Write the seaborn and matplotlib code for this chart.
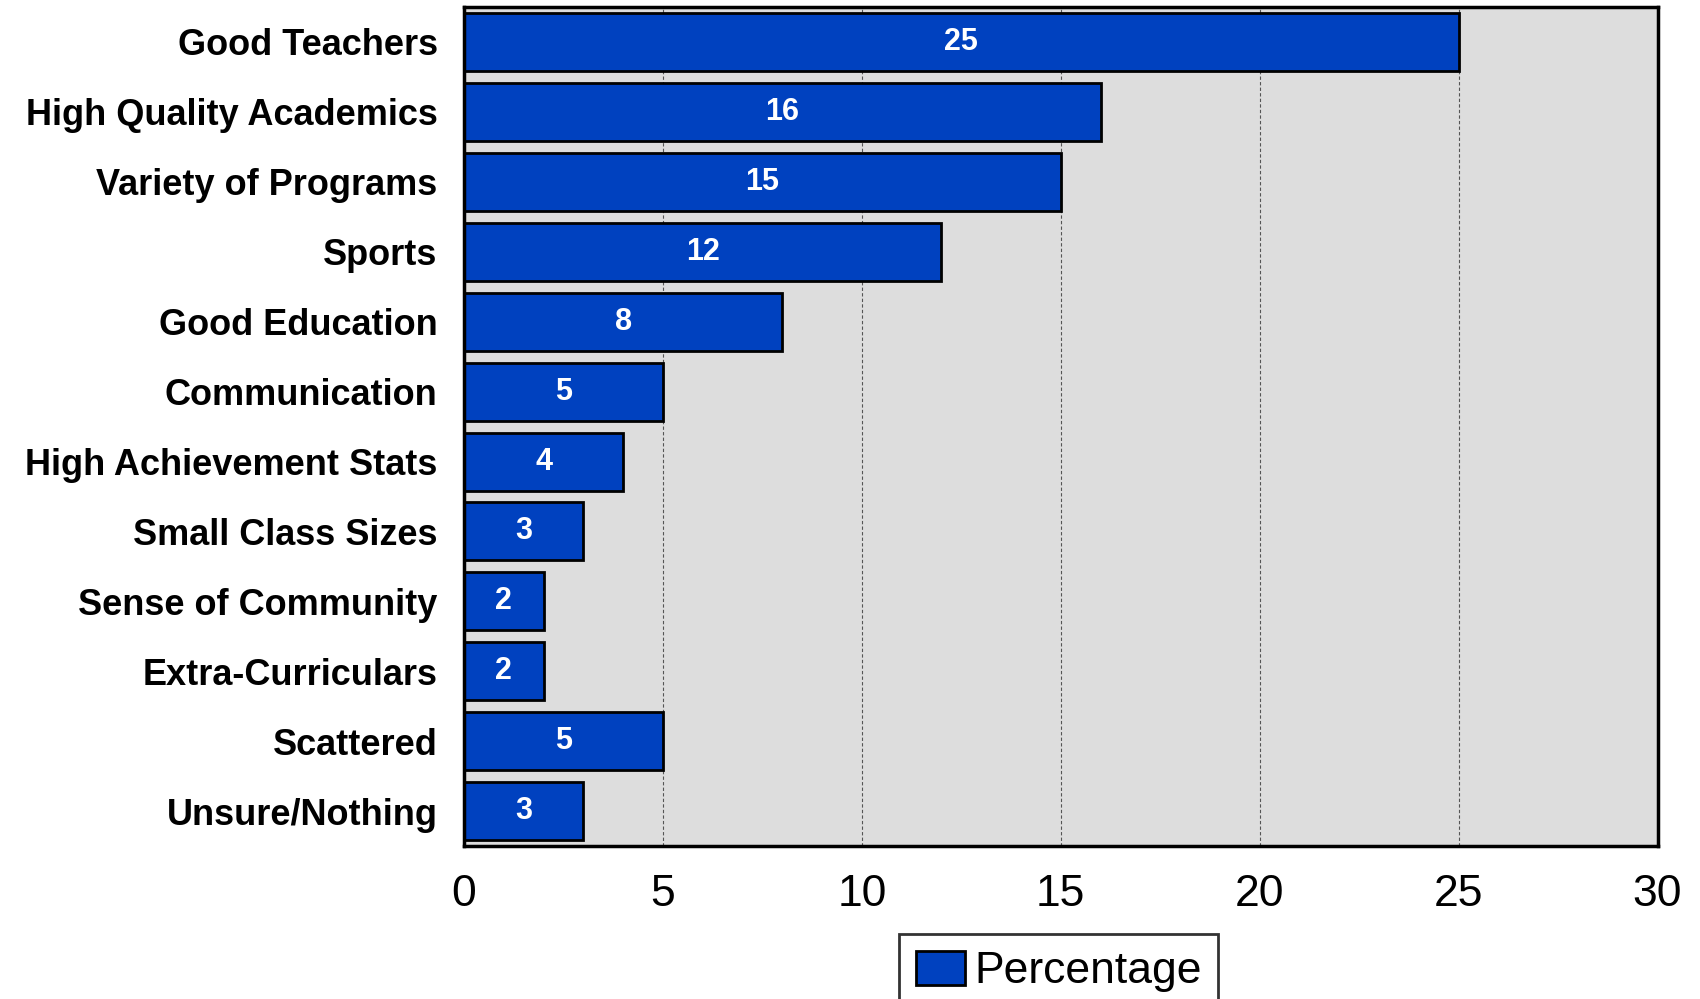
import pandas as pd
import matplotlib
matplotlib.use("Agg")
import matplotlib.pyplot as plt
import seaborn as sns
from matplotlib.patches import Patch

# Survey answers and their percentages (top to bottom)
categories = [
    "Good Teachers", "High Quality Academics", "Variety of Programs", "Sports",
    "Good Education", "Communication", "High Achievement Stats", "Small Class Sizes",
    "Sense of Community", "Extra-Curriculars", "Scattered", "Unsure/Nothing",
]
percentages = [25, 16, 15, 12, 8, 5, 4, 3, 2, 2, 5, 3]
x_ticks = [0, 5, 10, 15, 20, 25, 30]

data = pd.DataFrame({"Category": categories, "Percentage": percentages})

sns.set_style("white")
plt.rcParams["font.family"] = ["Liberation Sans", "DejaVu Sans"]
plt.rcParams["text.color"] = "black"
plt.rcParams["xtick.color"] = "black"
plt.rcParams["ytick.color"] = "black"

bar_color = "#0041BF"

fig = plt.figure(figsize=(17, 9.99), dpi=100)
ax = fig.add_axes([0.273, 0.153, 0.702, 0.840])

sns.barplot(data=data, x="Percentage", y="Category", orient="h", color=bar_color,
            saturation=1, width=0.83, edgecolor="black", linewidth=2, ax=ax)

# Bar value labels
for container in ax.containers:
    ax.bar_label(container, label_type="center", color="white",
                 fontsize=22, fontweight="bold")

ax.set_facecolor("#DDDDDD")
ax.set_xlim(0, 30)
ax.set_xticks(x_ticks)
ax.set_xticklabels([str(t) for t in x_ticks], fontsize=32, color="black")
ax.set_yticklabels(categories, fontsize=26, fontweight="bold", color="black")
ax.set_xlabel("")
ax.set_ylabel("")
ax.tick_params(axis="x", length=0, pad=20)
ax.tick_params(axis="y", length=0, pad=19)

ax.xaxis.grid(True, linestyle=(0, (3, 2)), color="#555555", linewidth=0.8)
ax.set_axisbelow(True)
for spine in ax.spines.values():
    spine.set_visible(True)
    spine.set_color("black")
    spine.set_linewidth(2.5)

handle = Patch(facecolor=bar_color, edgecolor="black", linewidth=2, label="Percentage")
leg = fig.legend(handles=[handle], loc="upper left", bbox_to_anchor=(0.529, 0.065),
                 bbox_transform=fig.transFigure, fontsize=32, frameon=True,
                 fancybox=False, handlelength=1.1, handleheight=0.8,
                 handletextpad=0.2, borderpad=0.38, borderaxespad=0)
leg.get_frame().set_edgecolor("black")
leg.get_frame().set_linewidth(2)

fig.savefig("out.png", dpi=100)
